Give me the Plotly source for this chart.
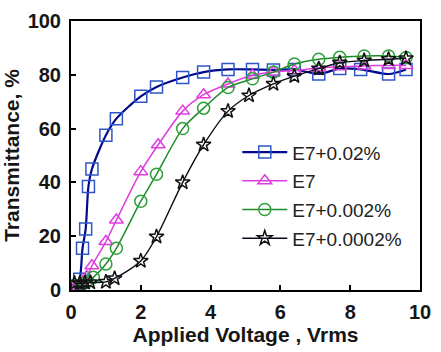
import plotly.graph_objects as go

# Data
x_002 = [0.05, 0.15, 0.25, 0.33, 0.42, 0.5, 0.6, 1.0, 1.3, 2.0, 2.45, 3.2, 3.8, 4.5, 5.2, 5.8, 6.4, 7.1, 7.7, 8.3, 9.1, 9.6]
y_002 = [1, 1.5, 4, 15.5, 22.7, 38.5, 45, 57.5, 63.7, 72, 75.5, 79, 81, 82, 82, 81.8, 82, 80.3, 82.3, 82, 80.3, 82]

x_e7 = [0.05, 0.15, 0.3, 0.45, 0.6, 1.0, 1.3, 2.0, 2.5, 3.2, 3.8, 4.5, 5.2, 5.8, 6.4, 7.1, 7.7, 8.4, 9.1, 9.6]
y_e7 = [1, 1.5, 3, 5, 9, 18, 26, 44, 54, 66.5, 72.6, 76.6, 79.8, 81, 81.6, 82.5, 83, 83.3, 83.5, 83.5]

x_0002 = [0.05, 0.15, 0.3, 0.45, 0.64, 1.0, 1.3, 2.0, 2.45, 3.2, 3.8, 4.5, 5.2, 5.8, 6.4, 7.1, 7.7, 8.4, 9.1, 9.6]
y_0002 = [1, 1.5, 2, 3, 4.7, 9.7, 15.5, 33, 43, 60, 67.6, 75.3, 78.5, 81, 84, 85.8, 86.5, 87, 87, 86.4]

x_00002 = [0.1, 0.25, 0.4, 0.55, 1.0, 1.25, 2.0, 2.45, 3.2, 3.8, 4.5, 5.1, 5.8, 6.4, 7.1, 7.7, 8.4, 9.1, 9.6]
y_00002 = [2.5, 2.5, 2.7, 2.8, 3, 4.3, 10.8, 19.8, 40, 54, 66.5, 72.3, 76.6, 79.5, 82.3, 84.5, 85.3, 85.8, 86.1]

names = ["E7+0.02%", "E7", "E7+0.002%", "E7+0.0002%"]
x_ticks = [0, 2, 4, 6, 8, 10]
y_ticks = [0, 20, 40, 60, 80, 100]

FONT = "Arial, Liberation Sans, sans-serif"
TXT = "#161616"

series = [
    (x_002, y_002, names[0], "#000a8c", "#2f55c8", "square-open", 2.2, 12),
    (x_e7, y_e7, names[1], "#e03ce0", "#e03ce0", "triangle-up-open", 1.5, 12),
    (x_0002, y_0002, names[2], "#1f8a2a", "#2ea03a", "circle-open", 1.5, 12),
    (x_00002, y_00002, names[3], "#0a0a1a", "#111111", "star-open", 1.4, 11),
]

fig = go.Figure()
for i, (xs, ys, nm, lc, mc, sym, lw, ms) in enumerate(series):
    fig.add_trace(go.Scatter(
        x=xs, y=ys, name=nm, mode="lines+markers",
        line=dict(color=lc, width=lw, shape="spline", smoothing=0.8),
        marker=dict(symbol=sym, size=ms, color=mc, line=dict(color=mc, width=1.5)),
        legendgroup=f"g{i}",
    ))

fig.update_layout(
    width=441, height=352,
    margin=dict(l=70, r=10, t=17, b=57),
    paper_bgcolor="white", plot_bgcolor="white",
    font=dict(family=FONT, color=TXT),
    showlegend=True,
    legend=dict(
        x=(242 - 70) / 361, y=(295 - 133) / 278, xanchor="left", yanchor="top",
        bgcolor="rgba(0,0,0,0)", borderwidth=0,
        font=dict(family=FONT, size=19, color="#222"),
        traceorder="grouped", tracegroupgap=1, itemwidth=45,
    ),
    xaxis=dict(
        range=[0, 10], tickvals=x_ticks, ticktext=[str(v) for v in x_ticks],
        showline=True, mirror=True, linecolor="black", linewidth=2,
        ticks="inside", ticklen=5, tickwidth=2, tickcolor="black",
        showgrid=False, zeroline=False,
        tickfont=dict(family=FONT, size=20, color=TXT, weight="bold"),
        ticklabelstandoff=3,
        title=dict(text="Applied Voltage , Vrms",
                   font=dict(family=FONT, size=21, color=TXT, weight="bold"),
                   standoff=4),
    ),
    yaxis=dict(
        range=[0, 100], tickvals=y_ticks, ticktext=[str(v) for v in y_ticks],
        showline=True, mirror=True, linecolor="black", linewidth=2,
        ticks="inside", ticklen=5, tickwidth=2, tickcolor="black",
        showgrid=False, zeroline=False,
        tickfont=dict(family=FONT, size=20, color=TXT, weight="bold"),
        ticklabelstandoff=4,
        title=dict(text="Transmittance, %",
                   font=dict(family=FONT, size=21, color=TXT, weight="bold"),
                   standoff=3),
    ),
)

fig.write_html("out.html")
